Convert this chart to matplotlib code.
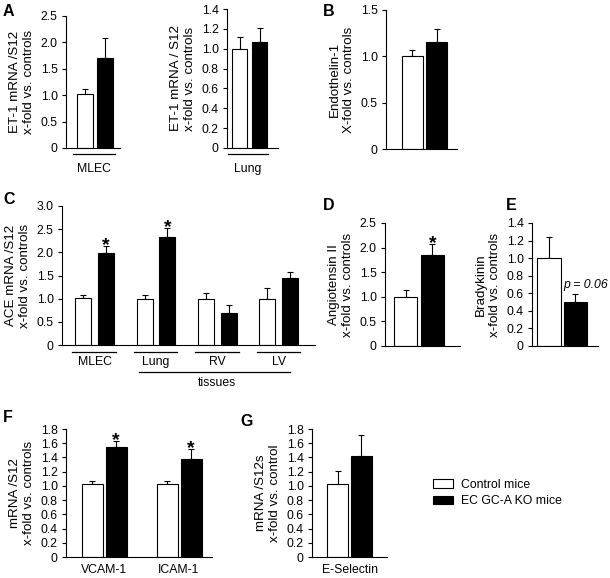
import numpy as np
import matplotlib
matplotlib.use('Agg')
import matplotlib.pyplot as plt
import matplotlib.transforms as mtransforms
from matplotlib.patches import Patch

plt.rcParams['font.family'] = ['Liberation Sans', 'DejaVu Sans']

# ---- data (control mean, control err, KO mean, KO err) ----
a1_groups = ['MLEC']
a1_ctrl, a1_ctrl_err = [1.02], [0.10]
a1_ko, a1_ko_err = [1.70], [0.39]

a2_groups = ['Lung']
a2_ctrl, a2_ctrl_err = [1.00], [0.12]
a2_ko, a2_ko_err = [1.07], [0.14]

b_ctrl, b_ctrl_err = [1.00], [0.07]
b_ko, b_ko_err = [1.16], [0.14]

c_groups = ['MLEC', 'Lung', 'RV', 'LV']
c_ctrl = [1.02, 0.99, 0.99, 0.99]
c_ctrl_err = [0.05, 0.09, 0.14, 0.24]
c_ko = [1.99, 2.33, 0.70, 1.45]
c_ko_err = [0.15, 0.19, 0.16, 0.12]
c_star = [True, True, False, False]

d_ctrl, d_ctrl_err = [1.00], [0.13]
d_ko, d_ko_err = [1.85], [0.22]

e_ctrl, e_ctrl_err = [1.00], [0.24]
e_ko, e_ko_err = [0.50], [0.09]

f_groups = ['VCAM-1', 'ICAM-1']
f_ctrl, f_ctrl_err = [1.02, 1.02], [0.05, 0.05]
f_ko, f_ko_err = [1.54, 1.38], [0.09, 0.14]

g_groups = ['E-Selectin']
g_ctrl, g_ctrl_err = [1.02], [0.19]
g_ko, g_ko_err = [1.42], [0.30]

W, H = 610, 578
fig = plt.figure(figsize=(W / 100, H / 100), dpi=100)

TICK_FS = 8.8
LABEL_FS = 9.6


def make_ax(l, t, r, b):
    return fig.add_axes([l / W, 1 - b / H, (r - l) / W, (b - t) / H])


def fmt(v, _):
    return '0' if abs(v) < 1e-9 else f'{v:.1f}'


def panel(rect, ctrl, ctrl_err, ko, ko_err, ytop, ystep, xlim, off, width,
          ylabel, stars=None):
    ax = make_ax(*rect)
    x = np.arange(len(ctrl))
    ax.bar(x - off, ctrl, width, color='white', edgecolor='black', lw=0.8, zorder=2)
    ax.bar(x + off, ko, width, color='black', edgecolor='black', lw=0.8, zorder=2)
    ax.errorbar(x - off, ctrl, yerr=[np.zeros(len(ctrl)), ctrl_err], fmt='none',
                ecolor='black', elinewidth=0.8, capsize=2.2, capthick=0.8, zorder=1)
    ax.errorbar(x + off, ko, yerr=[np.zeros(len(ko)), ko_err], fmt='none',
                ecolor='black', elinewidth=0.8, capsize=2.2, capthick=0.8, zorder=1)
    if stars is not None:
        for xi, k, e, s in zip(x, ko, ko_err, stars):
            if s:
                ax.annotate('*', (xi + off, k + e), xytext=(0, -3),
                            textcoords='offset points', ha='center',
                            va='baseline', fontsize=14, fontweight='bold')
    ax.set_xlim(*xlim)
    ax.set_ylim(0, ytop)
    ax.set_yticks(np.arange(0, ytop + 1e-6, ystep))
    ax.yaxis.set_major_formatter(plt.FuncFormatter(fmt))
    ax.set_xticks([])
    for s in ['top', 'right']:
        ax.spines[s].set_visible(False)
    for s in ['left', 'bottom']:
        ax.spines[s].set_linewidth(0.8)
    ax.tick_params(axis='y', direction='out', length=3, width=0.8,
                   pad=3, labelsize=TICK_FS)
    ax.set_ylabel(ylabel, fontsize=LABEL_FS, labelpad=4, linespacing=1.25)
    return ax


def below(ax, dy):
    return mtransforms.offset_copy(ax.get_xaxis_transform(), fig=fig,
                                   y=-dy, units='dots')


def underline(ax, x0, x1, dy):
    ax.plot([x0, x1], [0, 0], color='black', lw=0.9, clip_on=False,
            transform=below(ax, dy))


def label(ax, xpos, text, dy, fs=TICK_FS):
    ax.text(xpos, 0, text, ha='center', va='center', fontsize=fs,
            transform=below(ax, dy))


def letter(x, y, s):
    fig.text(x / W, 1 - y / H, s, fontsize=11.5, fontweight='bold',
             ha='left', va='center')


# ---- A ----
ax = panel((66, 16, 120, 148), a1_ctrl, a1_ctrl_err, a1_ko, a1_ko_err,
           2.5, 0.5, (-1.45, 1.25), 0.5, 0.8,
           'ET-1 mRNA /S12\nx-fold vs. controls')
underline(ax, -1.1, 1.0, 6)
label(ax, -0.05, a1_groups[0], 21)

ax = panel((227, 9, 278, 148), a2_ctrl, a2_ctrl_err, a2_ko, a2_ko_err,
           1.4, 0.2, (-1.125, 1.425), 0.5, 0.75,
           'ET-1 mRNA / S12\nx-fold vs. controls')
underline(ax, -1.08, 0.93, 6)
label(ax, -0.08, a2_groups[0], 21)

# ---- B ----
panel((386, 10, 457, 149), b_ctrl, b_ctrl_err, b_ko, b_ko_err,
      1.5, 0.5, (-1.6, 1.35), 0.5, 0.875,
      'Endothelin-1\nX-fold vs. controls')

# ---- C ----
ax = panel((62, 206, 315, 345), c_ctrl, c_ctrl_err, c_ko, c_ko_err,
           3.0, 0.5, (-0.53, 3.59), 0.185, 0.26,
           'ACE mRNA /S12\nx-fold vs. controls', stars=c_star)
for i, g in enumerate(c_groups):
    underline(ax, i - 0.36, i + 0.35, 7)
    label(ax, i, g, 17)
underline(ax, 1 - 0.27, 3 + 0.19, 27)
label(ax, 2.0, 'tissues', 38)

# ---- D ----
panel((385, 223, 460, 346), d_ctrl, d_ctrl_err, d_ko, d_ko_err,
      2.5, 0.5, (-1.26, 1.52), 0.5, 0.85,
      'Angiotensin II\nx-fold vs. controls', stars=[True])

# ---- E ----
ax = panel((532, 223, 598, 346), e_ctrl, e_ctrl_err, e_ko, e_ko_err,
           1.4, 0.2, (-1.14, 1.35), 0.5, 0.9,
           'Bradykinin\nx-fold vs. controls')
ax.text(0.05, 0.69, 'p = 0.06', fontsize=TICK_FS, style='italic',
        ha='left', va='center', clip_on=False)

# ---- F ----
ax = panel((66, 429, 212, 557), f_ctrl, f_ctrl_err, f_ko, f_ko_err,
           1.8, 0.2, (-0.51, 1.44), 0.16, 0.28,
           'mRNA /S12\nx-fold vs. controls', stars=[True, True])
for i, g in enumerate(f_groups):
    label(ax, i, g, 13)

# ---- G ----
ax = panel((312, 429, 387, 557), g_ctrl, g_ctrl_err, g_ko, g_ko_err,
           1.8, 0.2, (-1.6, 1.585), 0.5, 0.9,
           'mRNA /S12s\nx-fold vs. control')
label(ax, 0, g_groups[0], 13)

# panel letters
letter(3, 12, 'A')
letter(323, 12, 'B')
letter(3, 200, 'C')
letter(323, 205, 'D')
letter(506, 205, 'E')
letter(3, 418, 'F')
letter(240, 422, 'G')

# legend
handles = [Patch(facecolor='white', edgecolor='black', lw=0.8),
           Patch(facecolor='black', edgecolor='black', lw=0.8)]
fig.legend(handles, ['Control mice', 'EC GC-A KO mice'],
           loc='upper left', bbox_to_anchor=(433 / W, 1 - 479 / H),
           frameon=False, fontsize=8.8, handlelength=1.67, handleheight=0.75,
           handletextpad=0.65, labelspacing=0.35, borderpad=0, borderaxespad=0)

fig.savefig('out.png', dpi=100)
